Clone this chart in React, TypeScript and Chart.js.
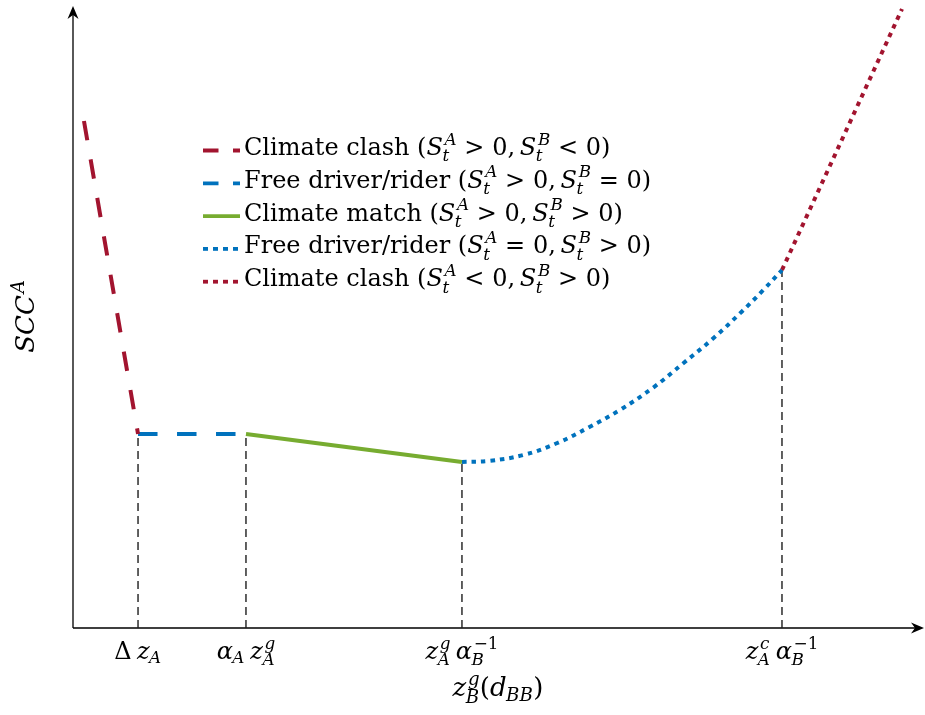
import React, { useEffect, useRef } from 'react';
import { Chart, registerables } from 'chart.js';

Chart.register(...registerables);

// ---------- data (abstract units, x and y both 0..10) ----------
const xMarks = [0.765, 2.035, 4.576, 8.341];
const xMarkLabels = ['$\\Delta\\,z_A$', '$\\alpha_A\\,z_A^g$', '$z_A^g\\,\\alpha_B^{-1}$', '$z_A^c\\,\\alpha_B^{-1}$'];
const yMarks = [3.114, 3.114, 2.665, 5.746];

const clashA_x = [0.129, 0.765];
const clashA_y = [8.138, 3.114];
const freeA_x = [0.765, 2.035];
const freeA_y = [3.114, 3.114];
const match_x = [2.035, 4.576];
const match_y = [3.114, 2.665];
const freeB_x = [4.576, 4.906, 5.298, 5.691, 6.082, 6.435, 6.827, 7.18, 7.533, 7.867, 8.121, 8.341];
const freeB_y = [2.665, 2.685, 2.777, 2.965, 3.231, 3.5, 3.86, 4.25, 4.65, 5.077, 5.425, 5.746];
const clashB_x = [8.341, 9.753];
const clashB_y = [5.746, 9.936];

const seriesLabels = [
  'Climate clash ($S_t^A > 0, S_t^B < 0$)',
  'Free driver/rider ($S_t^A > 0, S_t^B = 0$)',
  'Climate match ($S_t^A > 0, S_t^B > 0$)',
  'Free driver/rider ($S_t^A = 0, S_t^B > 0$)',
  'Climate clash ($S_t^A < 0, S_t^B > 0$)',
];
const xTitle = '$z_B^g(d_{BB})$';
const yTitle = '$SCC^A$';

// ---------- styles ----------
const RED = '#A2142F';
const BLUE = '#0072BD';
const GREEN = '#77AC30';
const GRAY = '#1e1e1e';
const FONT = '"DejaVu Serif", serif';
const DASH = [19.5, 19.5];
const DOT = [4.5, 5];
const seriesStyles = [
  { color: RED, dash: DASH, legendDash: [15.5, 14.5] },
  { color: BLUE, dash: DASH, legendDash: [15.5, 14.5] },
  { color: GREEN, dash: [] as number[], legendDash: [] as number[] },
  { color: BLUE, dash: DOT, legendDash: [5, 5] },
  { color: RED, dash: DOT, legendDash: [5, 5] },
];

// ---------- tiny TeX-like rich text renderer ----------
type Atom = {
  s: string;
  it: boolean;
  kind?: 'rel' | 'punct' | 'space' | 'ord';
  w?: number;
  sub?: Atom[];
  sup?: Atom[];
};

const GREEK: Record<string, [string, boolean]> = {
  alpha: ['\u03B1', true],
  Delta: ['\u0394', false],
};

function parseMath(src: string): Atom[] {
  const out: Atom[] = [];
  let i = 0;
  const readGroup = (): string => {
    if (src[i] === '{') {
      let depth = 1;
      let j = i + 1;
      while (j < src.length && depth > 0) {
        if (src[j] === '{') depth++;
        else if (src[j] === '}') depth--;
        j++;
      }
      const g = src.slice(i + 1, j - 1);
      i = j;
      return g;
    }
    if (src[i] === '\\') {
      let j = i + 1;
      while (j < src.length && /[a-zA-Z]/.test(src[j])) j++;
      const g = src.slice(i, j);
      i = j;
      return g;
    }
    const g = src[i];
    i++;
    return g;
  };
  while (i < src.length) {
    const c = src[i];
    if (c === ' ') { i++; continue; }
    if (c === '_' || c === '^') {
      i++;
      const g = readGroup();
      const last = out[out.length - 1];
      if (c === '_') last.sub = parseMath(g);
      else last.sup = parseMath(g);
      continue;
    }
    if (c === '\\') {
      const n = src[i + 1];
      if (!/[a-zA-Z]/.test(n)) {
        const w = n === ',' ? 0.22 : n === ';' ? 0.2778 : 0.2222;
        out.push({ s: '', it: false, kind: 'space', w });
        i += 2;
        continue;
      }
      let j = i + 1;
      while (j < src.length && /[a-zA-Z]/.test(src[j])) j++;
      const name = src.slice(i + 1, j);
      i = j;
      const g = GREEK[name] || [name, false];
      out.push({ s: g[0], it: g[1] });
      continue;
    }
    if (/[a-zA-Z]/.test(c)) out.push({ s: c, it: true });
    else if (c === '-') out.push({ s: '\u2212', it: false });
    else if (c === '>' || c === '<' || c === '=') out.push({ s: c, it: false, kind: 'rel' });
    else if (c === ',') out.push({ s: c, it: false, kind: 'punct' });
    else out.push({ s: c, it: false });
    i++;
  }
  return out;
}

function parseRich(src: string): Atom[] {
  const out: Atom[] = [];
  src.split('$').forEach((p, k) => {
    if (k % 2) out.push(...parseMath(p));
    else if (p) out.push({ s: p, it: false });
  });
  return out;
}

function fontOf(size: number, it: boolean) {
  return `${it ? 'italic ' : ''}${size}px ${FONT}`;
}

function renderAtoms(
  ctx: CanvasRenderingContext2D,
  atoms: Atom[],
  x0: number,
  y: number,
  size: number,
  draw: boolean,
  script = false
): number {
  let x = x0;
  for (const a of atoms) {
    if (a.kind === 'space') { x += (a.w || 0) * size; continue; }
    const rs = script ? 0 : 0.32 * size;
    if (a.kind === 'rel') x += rs;
    ctx.font = fontOf(size, a.it);
    const w = a.s ? ctx.measureText(a.s).width : 0;
    if (draw && a.s) ctx.fillText(a.s, x, y);
    let adv = w;
    if (a.sub || a.sup) {
      const ss = size * 0.7;
      const ic = a.it ? 0.07 * size : 0;
      const both = !!(a.sub && a.sup);
      let wsup = 0;
      let wsub = 0;
      if (a.sup) wsup = ic + renderAtoms(ctx, a.sup, x + w + ic, y - (both ? 0.43 : 0.4) * size, ss, draw, true);
      if (a.sub) wsub = renderAtoms(ctx, a.sub, x + w - (a.it ? 0.02 * size : 0), y + (both ? 0.27 : 0.18) * size, ss, draw, true);
      adv = w + Math.max(wsup, wsub);
    }
    x += adv;
    if (a.kind === 'rel') x += rs;
    if (a.kind === 'punct' && !script) x += 0.2 * size;
  }
  return x - x0;
}

function drawRich(
  ctx: CanvasRenderingContext2D,
  text: string,
  x: number,
  y: number,
  size: number,
  align: 'left' | 'center' = 'left'
) {
  const atoms = parseRich(text);
  ctx.save();
  ctx.textAlign = 'left';
  ctx.textBaseline = 'alphabetic';
  ctx.fillStyle = '#000';
  const w = renderAtoms(ctx, atoms, 0, 0, size, false);
  const sx = align === 'center' ? x - w / 2 : x;
  renderAtoms(ctx, atoms, sx, y, size, true);
  ctx.restore();
}

// ---------- plugins ----------
function arrowHead(ctx: CanvasRenderingContext2D, tx: number, ty: number, dx: number, dy: number) {
  const L = 13;
  const W = 5.5;
  const N = 9;
  const px = -dy;
  const py = dx;
  ctx.beginPath();
  ctx.moveTo(tx, ty);
  ctx.lineTo(tx - dx * L + px * W, ty - dy * L + py * W);
  ctx.lineTo(tx - dx * N, ty - dy * N);
  ctx.lineTo(tx - dx * L - px * W, ty - dy * L - py * W);
  ctx.closePath();
  ctx.fill();
}

const axesPlugin = {
  id: 'arrowAxes',
  beforeDatasetsDraw(chart: any) {
    const { ctx, chartArea } = chart;
    const { left, right, top, bottom } = chartArea;
    ctx.save();
    ctx.strokeStyle = '#000';
    ctx.fillStyle = '#000';
    ctx.lineWidth = 1.3;
    ctx.beginPath();
    ctx.moveTo(left, bottom);
    ctx.lineTo(left, top + 6);
    ctx.moveTo(left, bottom);
    ctx.lineTo(right - 5, bottom);
    ctx.stroke();
    arrowHead(ctx, left, top + 1, 0, -1);
    arrowHead(ctx, right + 1, bottom, 1, 0);
    ctx.restore();
  },
  afterDraw(chart: any) {
    const { ctx, chartArea, scales } = chart;
    const xs = scales.x;
    // tick labels
    xMarks.forEach((v, k) => {
      drawRich(ctx, xMarkLabels[k], xs.getPixelForValue(v), 659, 24, 'center');
    });
    // axis titles
    drawRich(ctx, xTitle, (chartArea.left + chartArea.right) / 2, 696, 26, 'center');
    ctx.save();
    ctx.translate(34, (chartArea.top + chartArea.bottom) / 2);
    ctx.rotate(-Math.PI / 2);
    drawRich(ctx, yTitle, 0, 0, 26, 'center');
    ctx.restore();
    // legend
    const x0 = 203;
    const x1 = 240;
    const tx = 244;
    const y0 = 155;
    const dy = 32.8;
    seriesLabels.forEach((lab, k) => {
      const st = seriesStyles[k];
      const yb = y0 + k * dy;
      ctx.save();
      ctx.strokeStyle = st.color;
      ctx.lineWidth = 3.8;
      ctx.lineCap = 'butt';
      ctx.setLineDash(st.legendDash);
      ctx.beginPath();
      ctx.moveTo(x0, yb - 4.5);
      ctx.lineTo(x1, yb - 4.5);
      ctx.stroke();
      ctx.restore();
      drawRich(ctx, lab, tx, yb, 24, 'left');
    });
  },
};

const pts = (xs: number[], ys: number[]) => xs.map((x, i) => ({ x, y: ys[i] }));

export default function App() {
  const ref = useRef<HTMLCanvasElement | null>(null);
  useEffect(() => {
    document.body.style.margin = '0';
    const canvas = ref.current;
    if (!canvas) return;
    const seriesData = [
      pts(clashA_x, clashA_y),
      pts(freeA_x, freeA_y),
      pts(match_x, match_y),
      pts(freeB_x, freeB_y),
      pts(clashB_x, clashB_y),
    ];
    const curveSets = seriesData.map((d, k) => ({
      label: seriesLabels[k],
      data: d,
      showLine: true,
      borderColor: seriesStyles[k].color,
      backgroundColor: seriesStyles[k].color,
      borderWidth: 4,
      borderDash: seriesStyles[k].dash,
      borderCapStyle: 'butt' as const,
      pointRadius: 0,
      fill: false,
      clip: false as any,
      order: 0,
      tension: k === 3 ? 0.4 : 0,
    }));
    const dropSets = xMarks.map((v, k) => ({
      label: 'drop' + k,
      data: [{ x: v, y: 0 }, { x: v, y: yMarks[k] }],
      showLine: true,
      borderColor: GRAY,
      borderWidth: 1.4,
      borderDash: [8, 5],
      pointRadius: 0,
      fill: false,
      clip: false as any,
      order: 10,
    }));
    const chart = new Chart(canvas, {
      type: 'scatter',
      data: { datasets: [...curveSets, ...dropSets] as any },
      options: {
        animation: false,
        responsive: false,
        devicePixelRatio: 1,
        layout: { padding: { left: 73, right: 2, top: 5, bottom: 87 } },
        scales: {
          x: { type: 'linear', min: 0, max: 10, display: false },
          y: { type: 'linear', min: 0, max: 10, display: false },
        },
        plugins: { legend: { display: false }, tooltip: { enabled: false } },
        events: [],
      },
      plugins: [axesPlugin],
    });
    return () => chart.destroy();
  }, []);
  return (
    <div style={{ position: 'fixed', left: 0, top: 0, width: 925, height: 715, background: '#fff' }}>
      <canvas ref={ref} width={925} height={715} style={{ display: 'block', width: 925, height: 715 }} />
    </div>
  );
}
